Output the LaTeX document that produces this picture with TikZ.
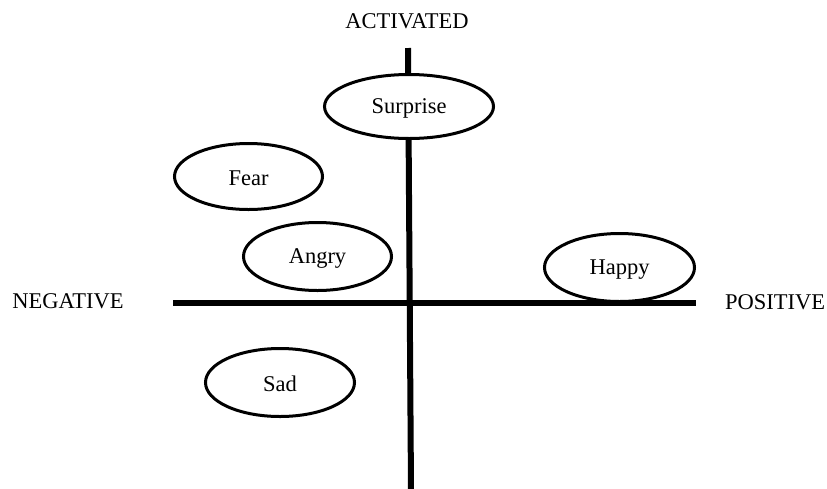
\documentclass[tikz,border=0pt]{standalone}
\usepackage{fontspec}
\setmainfont{Liberation Serif}
\usetikzlibrary{shapes.geometric}
\begin{document}
\begin{tikzpicture}[x=1pt,y=-1pt,
  emo/.style={ellipse,draw,fill=white,line width=3pt,inner sep=0pt,font=\fontsize{22.5}{26}\selectfont},
  emotxt/.style={inner sep=0pt,font=\fontsize{22.5}{26}\selectfont},
  axislbl/.style={font=\fontsize{22.5}{26}\selectfont,inner sep=0pt},
  axisline/.style={line width=6pt}]
\useasboundingbox (0,0) rectangle (827,488);
\coordinate (vtop) at (408,48);
\coordinate (vbot) at (411,490);
\coordinate (hl) at (173,303);
\coordinate (hr) at (696,303);
\draw[axisline] (vtop) -- (vbot);
\draw[axisline] (hl) -- (hr);
\node[emo,minimum width=169pt,minimum height=64pt] (surprise) at (409,106.5) {};
\node[emo,minimum width=148pt,minimum height=66pt] (fear) at (248.5,176.5) {};
\node[emo,minimum width=148pt,minimum height=68pt] (angry) at (317.5,256.5) {};
\node[emo,minimum width=150pt,minimum height=68pt] (happy) at (619.5,267.5) {};
\node[emo,minimum width=149pt,minimum height=68pt] (sad) at (280,382.5) {};
\node[emotxt] (tsurprise) at ([yshift=-2pt]surprise.center) {Surprise};
\node[emotxt] (tfear) at ([yshift=-2pt]fear.center) {Fear};
\node[emotxt] (tangry) at ([yshift=-2pt]angry.center) {Angry};
\node[emotxt] (thappy) at ([yshift=-2pt]happy.center) {Happy};
\node[emotxt] (tsad) at ([yshift=-1pt]sad.center) {Sad};
\node[axislbl] (act) at (407,21) {ACTIVATED};
\node[axislbl] (neg) at (68,301) {NEGATIVE};
\node[axislbl] (pos) at (775,302) {POSITIVE};
\end{tikzpicture}
\end{document}
